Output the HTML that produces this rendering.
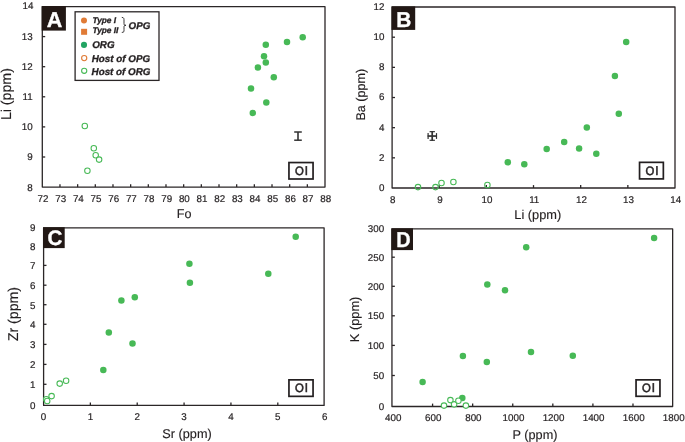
<!DOCTYPE html>
<html><head><meta charset="utf-8"><style>
html,body{margin:0;padding:0;background:#fff;width:685px;height:442px;overflow:hidden}
svg{display:block;will-change:transform}
</style></head><body>
<svg width="685" height="442" viewBox="0 0 685 442" text-rendering="geometricPrecision" font-family='"Liberation Sans", sans-serif'>
<rect width="685" height="442" fill="#fff"/>
<rect x="42.3" y="6.7" width="282.7" height="180.4" fill="none" stroke="#2b2627" stroke-width="1.3" stroke-linejoin="round"/>
<line x1="59.97" y1="187.1" x2="59.97" y2="184.2" stroke="#2b2627" stroke-width="1.3"/>
<line x1="77.64" y1="187.1" x2="77.64" y2="184.2" stroke="#2b2627" stroke-width="1.3"/>
<line x1="95.31" y1="187.1" x2="95.31" y2="184.2" stroke="#2b2627" stroke-width="1.3"/>
<line x1="112.98" y1="187.1" x2="112.98" y2="184.2" stroke="#2b2627" stroke-width="1.3"/>
<line x1="130.65" y1="187.1" x2="130.65" y2="184.2" stroke="#2b2627" stroke-width="1.3"/>
<line x1="148.32" y1="187.1" x2="148.32" y2="184.2" stroke="#2b2627" stroke-width="1.3"/>
<line x1="165.99" y1="187.1" x2="165.99" y2="184.2" stroke="#2b2627" stroke-width="1.3"/>
<line x1="183.66" y1="187.1" x2="183.66" y2="184.2" stroke="#2b2627" stroke-width="1.3"/>
<line x1="201.33" y1="187.1" x2="201.33" y2="184.2" stroke="#2b2627" stroke-width="1.3"/>
<line x1="219" y1="187.1" x2="219" y2="184.2" stroke="#2b2627" stroke-width="1.3"/>
<line x1="236.67" y1="187.1" x2="236.67" y2="184.2" stroke="#2b2627" stroke-width="1.3"/>
<line x1="254.34" y1="187.1" x2="254.34" y2="184.2" stroke="#2b2627" stroke-width="1.3"/>
<line x1="272.01" y1="187.1" x2="272.01" y2="184.2" stroke="#2b2627" stroke-width="1.3"/>
<line x1="289.68" y1="187.1" x2="289.68" y2="184.2" stroke="#2b2627" stroke-width="1.3"/>
<line x1="307.35" y1="187.1" x2="307.35" y2="184.2" stroke="#2b2627" stroke-width="1.3"/>
<line x1="42.3" y1="157" x2="45.2" y2="157" stroke="#2b2627" stroke-width="1.3"/>
<line x1="42.3" y1="126.9" x2="45.2" y2="126.9" stroke="#2b2627" stroke-width="1.3"/>
<line x1="42.3" y1="96.8" x2="45.2" y2="96.8" stroke="#2b2627" stroke-width="1.3"/>
<line x1="42.3" y1="66.7" x2="45.2" y2="66.7" stroke="#2b2627" stroke-width="1.3"/>
<line x1="42.3" y1="36.6" x2="45.2" y2="36.6" stroke="#2b2627" stroke-width="1.3"/>
<g font-size="9.8" fill="#231f20" stroke="#231f20" stroke-width="0.2" text-anchor="middle">
<text transform="translate(43,202.1) scale(1,1.0)">72</text>
<text transform="translate(60.67,202.1) scale(1,1.0)">73</text>
<text transform="translate(78.34,202.1) scale(1,1.0)">74</text>
<text transform="translate(96.01,202.1) scale(1,1.0)">75</text>
<text transform="translate(113.68,202.1) scale(1,1.0)">76</text>
<text transform="translate(131.35,202.1) scale(1,1.0)">77</text>
<text transform="translate(149.02,202.1) scale(1,1.0)">78</text>
<text transform="translate(166.69,202.1) scale(1,1.0)">79</text>
<text transform="translate(184.36,202.1) scale(1,1.0)">80</text>
<text transform="translate(202.03,202.1) scale(1,1.0)">81</text>
<text transform="translate(219.7,202.1) scale(1,1.0)">82</text>
<text transform="translate(237.37,202.1) scale(1,1.0)">83</text>
<text transform="translate(255.04,202.1) scale(1,1.0)">84</text>
<text transform="translate(272.71,202.1) scale(1,1.0)">85</text>
<text transform="translate(290.38,202.1) scale(1,1.0)">86</text>
<text transform="translate(308.05,202.1) scale(1,1.0)">87</text>
<text transform="translate(325.72,202.1) scale(1,1.0)">88</text>
</g>
<g font-size="9.8" fill="#231f20" stroke="#231f20" stroke-width="0.2" text-anchor="end">
<text transform="translate(32.6,190.55) scale(1,1.0)">8</text>
<text transform="translate(32.6,160.45) scale(1,1.0)">9</text>
<text transform="translate(32.6,130.35) scale(1,1.0)">10</text>
<text transform="translate(32.6,100.25) scale(1,1.0)">11</text>
<text transform="translate(32.6,70.15) scale(1,1.0)">12</text>
<text transform="translate(32.6,40.05) scale(1,1.0)">13</text>
<text transform="translate(33.5,8.65) scale(1,1.0)">14</text>
</g>
<text x="184.2" y="218.1" font-size="12.6" fill="#231f20" stroke="#231f20" stroke-width="0.15" text-anchor="middle">Fo</text>
<text transform="translate(11.2,94.1) rotate(-90)" font-size="14.2" fill="#231f20" stroke="#231f20" stroke-width="0.15" text-anchor="middle">Li (ppm)</text>
<rect x="41.7" y="6.1" width="24.2" height="24.5" fill="#221815"/>
<text transform="translate(54.6,27) scale(1.0,1)" font-size="21.5" font-weight="bold" fill="#fff" stroke="#fff" stroke-width="0.35" text-anchor="middle">A</text>
<rect x="288.95" y="162.55" width="24.1" height="16.45" fill="#fff" stroke="#231f20" stroke-width="1.7"/>
<g font-size="12.2" fill="#231f20" stroke="#231f20" stroke-width="0.55" text-anchor="middle"><text transform="translate(299.4,174.8) scale(0.93,1)">O</text><text x="306.35" y="174.8">l</text></g>
<circle cx="302.7" cy="37.3" r="3.25" fill="#47b956"/>
<circle cx="287" cy="42" r="3.25" fill="#47b956"/>
<circle cx="265.8" cy="44.7" r="3.25" fill="#47b956"/>
<circle cx="264" cy="56.3" r="3.25" fill="#47b956"/>
<circle cx="265.8" cy="62.6" r="3.25" fill="#47b956"/>
<circle cx="257.9" cy="67.4" r="3.25" fill="#47b956"/>
<circle cx="273.8" cy="77.2" r="3.25" fill="#47b956"/>
<circle cx="251" cy="88.4" r="3.25" fill="#47b956"/>
<circle cx="266.3" cy="102.4" r="3.25" fill="#47b956"/>
<circle cx="252.8" cy="113" r="3.25" fill="#47b956"/>
<circle cx="84.8" cy="126" r="2.75" fill="#fff" stroke="#47b956" stroke-width="1.05"/>
<circle cx="93.8" cy="148.3" r="2.75" fill="#fff" stroke="#47b956" stroke-width="1.05"/>
<circle cx="95.7" cy="155.3" r="2.75" fill="#fff" stroke="#47b956" stroke-width="1.05"/>
<circle cx="99.1" cy="159.6" r="2.75" fill="#fff" stroke="#47b956" stroke-width="1.05"/>
<circle cx="87.4" cy="170.7" r="2.75" fill="#fff" stroke="#47b956" stroke-width="1.05"/>
<rect x="392.1" y="7" width="282.9" height="181" fill="none" stroke="#2b2627" stroke-width="1.3" stroke-linejoin="round"/>
<line x1="439.17" y1="188" x2="439.17" y2="185.1" stroke="#2b2627" stroke-width="1.3"/>
<line x1="486.34" y1="188" x2="486.34" y2="185.1" stroke="#2b2627" stroke-width="1.3"/>
<line x1="533.51" y1="188" x2="533.51" y2="185.1" stroke="#2b2627" stroke-width="1.3"/>
<line x1="580.68" y1="188" x2="580.68" y2="185.1" stroke="#2b2627" stroke-width="1.3"/>
<line x1="627.85" y1="188" x2="627.85" y2="185.1" stroke="#2b2627" stroke-width="1.3"/>
<line x1="392.1" y1="157.84" x2="395" y2="157.84" stroke="#2b2627" stroke-width="1.3"/>
<line x1="392.1" y1="127.68" x2="395" y2="127.68" stroke="#2b2627" stroke-width="1.3"/>
<line x1="392.1" y1="97.52" x2="395" y2="97.52" stroke="#2b2627" stroke-width="1.3"/>
<line x1="392.1" y1="67.36" x2="395" y2="67.36" stroke="#2b2627" stroke-width="1.3"/>
<line x1="392.1" y1="37.2" x2="395" y2="37.2" stroke="#2b2627" stroke-width="1.3"/>
<g font-size="9.8" fill="#231f20" stroke="#231f20" stroke-width="0.2" text-anchor="middle">
<text transform="translate(392.7,203) scale(1,1.0)">8</text>
<text transform="translate(439.87,203) scale(1,1.0)">9</text>
<text transform="translate(487.04,203) scale(1,1.0)">10</text>
<text transform="translate(534.21,203) scale(1,1.0)">11</text>
<text transform="translate(581.38,203) scale(1,1.0)">12</text>
<text transform="translate(628.55,203) scale(1,1.0)">13</text>
<text transform="translate(675.72,203) scale(1,1.0)">14</text>
</g>
<g font-size="9.8" fill="#231f20" stroke="#231f20" stroke-width="0.2" text-anchor="end">
<text transform="translate(384.5,190.9) scale(1,1.0)">0</text>
<text transform="translate(384.5,160.74) scale(1,1.0)">2</text>
<text transform="translate(384.5,130.58) scale(1,1.0)">4</text>
<text transform="translate(384.5,100.42) scale(1,1.0)">6</text>
<text transform="translate(384.5,70.26) scale(1,1.0)">8</text>
<text transform="translate(384.5,40.1) scale(1,1.0)">10</text>
<text transform="translate(384.5,9.94) scale(1,1.0)">12</text>
</g>
<text x="537.8" y="218.7" font-size="12.8" fill="#231f20" stroke="#231f20" stroke-width="0.15" text-anchor="middle">Li (ppm)</text>
<text transform="translate(365.2,94.7) rotate(-90)" font-size="12.6" fill="#231f20" stroke="#231f20" stroke-width="0.15" text-anchor="middle">Ba (ppm)</text>
<rect x="391.5" y="6.4" width="23.7" height="23.5" fill="#221815"/>
<text transform="translate(403.8,26.8) scale(0.97,1)" font-size="21.5" font-weight="bold" fill="#fff" stroke="#fff" stroke-width="0.35" text-anchor="middle">B</text>
<rect x="639.55" y="162.35" width="23.8" height="16.55" fill="#fff" stroke="#231f20" stroke-width="1.7"/>
<g font-size="12.2" fill="#231f20" stroke="#231f20" stroke-width="0.55" text-anchor="middle"><text transform="translate(649.85,174.7) scale(0.93,1)">O</text><text x="656.8" y="174.7">l</text></g>
<circle cx="507.8" cy="162.3" r="3.25" fill="#47b956"/>
<circle cx="524.3" cy="164.3" r="3.25" fill="#47b956"/>
<circle cx="546.7" cy="148.9" r="3.25" fill="#47b956"/>
<circle cx="564.2" cy="141.9" r="3.25" fill="#47b956"/>
<circle cx="579.1" cy="148.4" r="3.25" fill="#47b956"/>
<circle cx="586.8" cy="127.5" r="3.25" fill="#47b956"/>
<circle cx="596.3" cy="153.7" r="3.25" fill="#47b956"/>
<circle cx="626.2" cy="42" r="3.25" fill="#47b956"/>
<circle cx="614.9" cy="76" r="3.25" fill="#47b956"/>
<circle cx="618.8" cy="113.8" r="3.25" fill="#47b956"/>
<circle cx="418" cy="187.1" r="2.75" fill="none" stroke="#47b956" stroke-width="1.05"/>
<circle cx="435.5" cy="187.1" r="2.75" fill="none" stroke="#47b956" stroke-width="1.05"/>
<circle cx="441.5" cy="182.9" r="2.75" fill="none" stroke="#47b956" stroke-width="1.05"/>
<circle cx="453.4" cy="181.9" r="2.75" fill="none" stroke="#47b956" stroke-width="1.05"/>
<circle cx="487.4" cy="184.9" r="2.75" fill="none" stroke="#47b956" stroke-width="1.05"/>
<rect x="43.6" y="227.8" width="280.5" height="177.6" fill="none" stroke="#2b2627" stroke-width="1.3" stroke-linejoin="round"/>
<line x1="90.36" y1="405.4" x2="90.36" y2="402.5" stroke="#2b2627" stroke-width="1.3"/>
<line x1="137.22" y1="405.4" x2="137.22" y2="402.5" stroke="#2b2627" stroke-width="1.3"/>
<line x1="184.08" y1="405.4" x2="184.08" y2="402.5" stroke="#2b2627" stroke-width="1.3"/>
<line x1="230.94" y1="405.4" x2="230.94" y2="402.5" stroke="#2b2627" stroke-width="1.3"/>
<line x1="277.8" y1="405.4" x2="277.8" y2="402.5" stroke="#2b2627" stroke-width="1.3"/>
<line x1="43.6" y1="384.3" x2="46.5" y2="384.3" stroke="#2b2627" stroke-width="1.3"/>
<line x1="43.6" y1="364.4" x2="46.5" y2="364.4" stroke="#2b2627" stroke-width="1.3"/>
<line x1="43.6" y1="344.4" x2="46.5" y2="344.4" stroke="#2b2627" stroke-width="1.3"/>
<line x1="43.6" y1="324.3" x2="46.5" y2="324.3" stroke="#2b2627" stroke-width="1.3"/>
<line x1="43.6" y1="304.7" x2="46.5" y2="304.7" stroke="#2b2627" stroke-width="1.3"/>
<line x1="43.6" y1="285.2" x2="46.5" y2="285.2" stroke="#2b2627" stroke-width="1.3"/>
<line x1="43.6" y1="265.4" x2="46.5" y2="265.4" stroke="#2b2627" stroke-width="1.3"/>
<line x1="43.6" y1="245.8" x2="46.5" y2="245.8" stroke="#2b2627" stroke-width="1.3"/>
<g font-size="9.8" fill="#231f20" stroke="#231f20" stroke-width="0.2" text-anchor="middle">
<text transform="translate(43.5,420.3) scale(1,1.0)">0</text>
<text transform="translate(90.36,420.3) scale(1,1.0)">1</text>
<text transform="translate(137.22,420.3) scale(1,1.0)">2</text>
<text transform="translate(184.08,420.3) scale(1,1.0)">3</text>
<text transform="translate(230.94,420.3) scale(1,1.0)">4</text>
<text transform="translate(277.8,420.3) scale(1,1.0)">5</text>
<text transform="translate(324.66,420.3) scale(1,1.0)">6</text>
</g>
<g font-size="9.8" fill="#231f20" stroke="#231f20" stroke-width="0.2" text-anchor="end">
<text transform="translate(35.4,409.4) scale(1,1.0)">0</text>
<text transform="translate(35.4,388.3) scale(1,1.0)">1</text>
<text transform="translate(35.4,368.4) scale(1,1.0)">2</text>
<text transform="translate(35.4,348.4) scale(1,1.0)">3</text>
<text transform="translate(35.4,328.3) scale(1,1.0)">4</text>
<text transform="translate(35.4,308.7) scale(1,1.0)">5</text>
<text transform="translate(35.4,289.2) scale(1,1.0)">6</text>
<text transform="translate(35.4,269.4) scale(1,1.0)">7</text>
<text transform="translate(35.4,249.8) scale(1,1.0)">8</text>
<text transform="translate(35.4,231.4) scale(1,1.0)">9</text>
</g>
<text x="187" y="438.1" font-size="12.7" fill="#231f20" stroke="#231f20" stroke-width="0.15" text-anchor="middle">Sr (ppm)</text>
<text transform="translate(17.8,314.1) rotate(-90)" font-size="14.2" fill="#231f20" stroke="#231f20" stroke-width="0.15" text-anchor="middle">Zr (ppm)</text>
<rect x="43" y="227.2" width="21.7" height="20.9" fill="#221815"/>
<text transform="translate(55,244.9) scale(0.98,1)" font-size="21" font-weight="bold" fill="#fff" stroke="#fff" stroke-width="0.35" text-anchor="middle">C</text>
<rect x="288.95" y="379.85" width="24.1" height="16.5" fill="#fff" stroke="#231f20" stroke-width="1.7"/>
<g font-size="12.2" fill="#231f20" stroke="#231f20" stroke-width="0.55" text-anchor="middle"><text transform="translate(299.4,392.15) scale(0.93,1)">O</text><text x="306.35" y="392.15">l</text></g>
<circle cx="295.7" cy="236.7" r="3.25" fill="#47b956"/>
<circle cx="189.4" cy="263.8" r="3.25" fill="#47b956"/>
<circle cx="268.3" cy="273.8" r="3.25" fill="#47b956"/>
<circle cx="189.9" cy="282.7" r="3.25" fill="#47b956"/>
<circle cx="121.4" cy="300.6" r="3.25" fill="#47b956"/>
<circle cx="134.8" cy="297.2" r="3.25" fill="#47b956"/>
<circle cx="108.8" cy="332.5" r="3.25" fill="#47b956"/>
<circle cx="132.5" cy="343.6" r="3.25" fill="#47b956"/>
<circle cx="103.3" cy="370" r="3.25" fill="#47b956"/>
<circle cx="46.3" cy="399.3" r="2.75" fill="#fff" stroke="#47b956" stroke-width="1.05"/>
<circle cx="47.2" cy="400.9" r="2.75" fill="#fff" stroke="#47b956" stroke-width="1.05"/>
<circle cx="51.6" cy="396.1" r="2.75" fill="#fff" stroke="#47b956" stroke-width="1.05"/>
<circle cx="59.7" cy="383.6" r="2.75" fill="#fff" stroke="#47b956" stroke-width="1.05"/>
<circle cx="66.1" cy="380.8" r="2.75" fill="#fff" stroke="#47b956" stroke-width="1.05"/>
<rect x="391.95" y="228.9" width="280.7" height="177.6" fill="none" stroke="#2b2627" stroke-width="1.3" stroke-linejoin="round"/>
<line x1="432.58" y1="406.5" x2="432.58" y2="403.6" stroke="#2b2627" stroke-width="1.3"/>
<line x1="472.66" y1="406.5" x2="472.66" y2="403.6" stroke="#2b2627" stroke-width="1.3"/>
<line x1="512.74" y1="406.5" x2="512.74" y2="403.6" stroke="#2b2627" stroke-width="1.3"/>
<line x1="552.82" y1="406.5" x2="552.82" y2="403.6" stroke="#2b2627" stroke-width="1.3"/>
<line x1="592.9" y1="406.5" x2="592.9" y2="403.6" stroke="#2b2627" stroke-width="1.3"/>
<line x1="632.98" y1="406.5" x2="632.98" y2="403.6" stroke="#2b2627" stroke-width="1.3"/>
<line x1="391.95" y1="375.5" x2="394.85" y2="375.5" stroke="#2b2627" stroke-width="1.3"/>
<line x1="391.95" y1="345.4" x2="394.85" y2="345.4" stroke="#2b2627" stroke-width="1.3"/>
<line x1="391.95" y1="315.8" x2="394.85" y2="315.8" stroke="#2b2627" stroke-width="1.3"/>
<line x1="391.95" y1="286.3" x2="394.85" y2="286.3" stroke="#2b2627" stroke-width="1.3"/>
<line x1="391.95" y1="257.2" x2="394.85" y2="257.2" stroke="#2b2627" stroke-width="1.3"/>
<g font-size="9.8" fill="#231f20" stroke="#231f20" stroke-width="0.2" text-anchor="middle">
<text transform="translate(393.2,421.2) scale(1,1.0)">400</text>
<text transform="translate(433.28,421.2) scale(1,1.0)">600</text>
<text transform="translate(473.36,421.2) scale(1,1.0)">800</text>
<text transform="translate(513.44,421.2) scale(1,1.0)">1000</text>
<text transform="translate(553.52,421.2) scale(1,1.0)">1200</text>
<text transform="translate(593.6,421.2) scale(1,1.0)">1400</text>
<text transform="translate(633.68,421.2) scale(1,1.0)">1600</text>
<text transform="translate(673.76,421.2) scale(1,1.0)">1800</text>
</g>
<g font-size="9.8" fill="#231f20" stroke="#231f20" stroke-width="0.2" text-anchor="end">
<text transform="translate(384.2,409.95) scale(1,1.0)">0</text>
<text transform="translate(384.2,378.95) scale(1,1.0)">50</text>
<text transform="translate(384.2,348.85) scale(1,1.0)">100</text>
<text transform="translate(384.2,319.25) scale(1,1.0)">150</text>
<text transform="translate(384.2,289.75) scale(1,1.0)">200</text>
<text transform="translate(384.2,260.65) scale(1,1.0)">250</text>
<text transform="translate(384.2,231.75) scale(1,1.0)">300</text>
</g>
<text x="535" y="438.6" font-size="12.7" fill="#231f20" stroke="#231f20" stroke-width="0.15" text-anchor="middle">P (ppm)</text>
<text transform="translate(359.2,319.4) rotate(-90)" font-size="12.8" fill="#231f20" stroke="#231f20" stroke-width="0.15" text-anchor="middle">K (ppm)</text>
<rect x="391.35" y="228.3" width="21.65" height="21.8" fill="#221815"/>
<text transform="translate(403.55,246.5) scale(0.925,1)" font-size="21.5" font-weight="bold" fill="#fff" stroke="#fff" stroke-width="0.35" text-anchor="middle">D</text>
<rect x="636.05" y="379.85" width="23.9" height="16.45" fill="#fff" stroke="#231f20" stroke-width="1.7"/>
<g font-size="12.2" fill="#231f20" stroke="#231f20" stroke-width="0.55" text-anchor="middle"><text transform="translate(646.4,392.1) scale(0.93,1)">O</text><text x="653.35" y="392.1">l</text></g>
<circle cx="526.2" cy="247.3" r="3.25" fill="#47b956"/>
<circle cx="487.3" cy="284.6" r="3.25" fill="#47b956"/>
<circle cx="505" cy="290.3" r="3.25" fill="#47b956"/>
<circle cx="462.9" cy="356.1" r="3.25" fill="#47b956"/>
<circle cx="486.8" cy="362" r="3.25" fill="#47b956"/>
<circle cx="531" cy="352" r="3.25" fill="#47b956"/>
<circle cx="572.8" cy="355.7" r="3.25" fill="#47b956"/>
<circle cx="654.1" cy="238" r="3.25" fill="#47b956"/>
<circle cx="422.6" cy="382.1" r="3.25" fill="#47b956"/>
<circle cx="462.3" cy="397.9" r="3.25" fill="#47b956"/>
<circle cx="444" cy="405.6" r="2.75" fill="#fff" stroke="#47b956" stroke-width="1.05"/>
<circle cx="450.4" cy="400.1" r="2.75" fill="#fff" stroke="#47b956" stroke-width="1.05"/>
<circle cx="454.1" cy="404.35" r="2.75" fill="#fff" stroke="#47b956" stroke-width="1.05"/>
<circle cx="458.4" cy="400.7" r="2.75" fill="#fff" stroke="#47b956" stroke-width="1.05"/>
<circle cx="465.9" cy="405.6" r="2.75" fill="#fff" stroke="#47b956" stroke-width="1.05"/>
<g stroke="#333" fill="none">
<line x1="298" y1="131.9" x2="298" y2="140.2" stroke-width="1.6"/>
<line x1="294.2" y1="132" x2="301.8" y2="132" stroke-width="1.5"/>
<line x1="294.2" y1="140.2" x2="301.8" y2="140.2" stroke-width="1.5"/>
<line x1="427.6" y1="136.05" x2="437" y2="136.05" stroke-width="1.7"/>
<line x1="432.2" y1="131.1" x2="432.2" y2="140.8" stroke-width="1.7"/>
<line x1="429.6" y1="131.65" x2="434.9" y2="131.65" stroke-width="1.2"/>
<line x1="429.6" y1="140.3" x2="434.9" y2="140.3" stroke-width="1.2"/>
<line x1="428.1" y1="133.1" x2="428.1" y2="138.9" stroke-width="1.2"/>
<line x1="436.5" y1="133.1" x2="436.5" y2="138.9" stroke-width="1.2"/>
</g>
<rect x="75.1" y="11.8" width="83.9" height="68.6" fill="#fff" stroke="#2b2627" stroke-width="1.3"/>
<circle cx="84" cy="20.5" r="3" fill="#e07b36"/>
<rect x="81.1" y="28.8" width="6" height="6" fill="#e07b36"/>
<circle cx="84" cy="44.9" r="3.05" fill="#22a462"/>
<circle cx="84.2" cy="58.1" r="2.6" fill="none" stroke="#e07b36" stroke-width="1.1"/>
<circle cx="84.2" cy="70.8" r="2.6" fill="none" stroke="#47b956" stroke-width="1.1"/>
<g font-weight="bold" font-style="italic" fill="#231f20" stroke="#231f20" stroke-width="0.3">
<text x="92.4" y="23.1" font-size="8.3">Type I</text>
<text x="92.4" y="33.1" font-size="8.3">Type II</text>
<text x="128.6" y="29.1" font-size="9.75">OPG</text>
<text x="92.2" y="47.9" font-size="9.8">ORG</text>
<text x="91.8" y="61.9" font-size="9.8">Host of OPG</text>
<text x="91.6" y="74.6" font-size="9.8">Host of ORG</text>
</g>
<path d="M121.8,17.4 C124.2,17.4 124,19 124,21 L124,23.5 C124,25 124.5,25.3 126,25.3 C124.5,25.3 124,25.6 124,27.1 L124,29.6 C124,31.6 124.2,32.4 121.8,32.4" fill="none" stroke="#231f20" stroke-width="0.9"/>
</svg>
</body></html>
